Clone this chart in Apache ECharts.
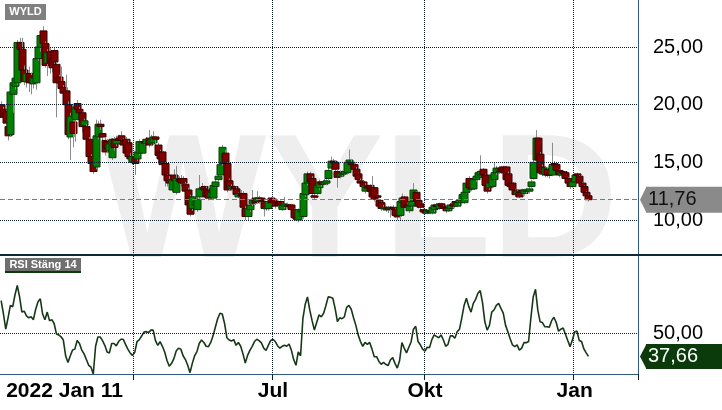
<!DOCTYPE html>
<html><head><meta charset="utf-8">
<script src="https://cdn.jsdelivr.net/npm/echarts@6/dist/echarts.min.js"></script>
<style>html,body{margin:0;padding:0;background:#fff}#c{width:722px;height:410px}</style>
</head><body><div id="c"></div>
<script>
// ---- data ----
const startDate = '2022-01-11';
const holidays = ['2022-04-15','2022-04-18','2022-05-26','2022-06-06','2022-06-24','2023-01-06'];
const monthNames = ['Jan','Feb','Mar','Apr','Maj','Jun','Jul','Aug','Sep','Okt','Nov','Dec'];
const ticker = 'WYLD';
const rsiTitle = 'RSI Stäng 14';
const priceTicks = [10, 15, 20, 25];
const rsiTicks = [50];

const opens = [20.0,19.6,19.4,18.1,17.4,20.9,21.6,21.9,25.4,24.8,
23.0,22.0,22.7,22.5,21.8,21.9,24.0,25.0,26.4,25.3,
23.6,24.6,24.0,24.7,23.5,22.4,22.0,21.5,21.2,20.0,
17.2,18.5,18.7,20.1,19.6,19.3,18.2,18.1,17.0,15.5,
15.0,14.6,17.2,18.3,17.5,16.9,16.8,16.0,15.4,17.0,
16.6,17.1,17.3,16.9,17.0,16.7,15.5,15.0,15.4,15.3,
15.8,15.8,16.8,16.6,17.1,16.6,16.7,17.2,16.5,15.9,
15.9,14.9,13.9,13.4,12.6,13.9,12.4,13.5,13.6,13.6,
13.1,12.6,12.0,11.0,11.3,10.9,12.0,12.7,12.9,12.7,
12.6,12.0,11.9,12.9,13.5,13.9,14.9,15.8,14.9,13.4,
12.7,12.9,12.7,12.0,12.3,12.3,11.0,10.3,10.9,11.4,
11.9,11.6,11.6,11.9,11.6,11.0,11.0,11.9,11.8,11.6,
11.5,11.6,10.9,11.2,11.2,11.3,11.3,10.9,10.2,10.0,
10.7,10.3,12.2,13.2,14.0,13.6,12.1,12.3,12.8,13.3,
13.1,13.2,13.6,14.5,15.1,15.0,14.2,13.8,14.0,14.0,
14.1,15.0,15.0,14.8,14.4,14.0,13.4,13.3,12.5,12.9,
13.0,12.8,12.8,12.1,11.7,11.5,11.0,10.9,11.1,11.0,
11.1,10.9,10.4,10.4,11.5,12.0,11.3,10.8,11.2,11.6,
12.4,11.7,11.4,10.9,10.8,10.6,10.8,10.6,10.9,11.3,
11.0,11.4,11.2,11.1,10.8,11.0,11.4,11.6,11.2,11.5,
11.7,11.5,12.4,13.6,12.8,12.7,13.5,13.7,13.9,14.4,
13.9,13.0,12.8,12.9,13.5,14.1,14.2,14.5,14.6,14.6,
14.0,13.2,13.2,12.6,12.2,12.4,12.6,12.3,12.5,12.5,
12.9,13.6,15.2,17.1,15.7,14.6,13.9,14.4,14.0,13.9,
14.9,14.8,14.3,13.9,14.2,14.1,13.6,13.2,12.9,13.3,
14.0,13.8,13.2,12.9,12.4,12.1];

const closes = [19.4,18.9,18.4,17.3,21.1,21.9,22.3,25.4,24.8,23.0,
22.0,22.7,21.9,21.9,22.3,24.0,25.0,26.0,25.3,23.4,
24.5,23.6,23.2,23.7,21.9,21.9,21.4,21.0,20.0,17.4,
19.0,17.5,19.8,19.6,19.3,18.1,18.6,17.0,15.5,14.9,
14.2,17.3,18.3,18.1,17.2,15.9,16.2,16.6,17.0,16.3,
16.9,16.9,16.9,16.5,15.8,15.5,15.3,15.5,14.9,15.9,
16.8,16.8,16.7,17.0,16.5,17.0,17.2,17.0,15.6,15.3,
14.8,13.9,13.4,13.2,13.5,13.4,13.6,13.4,13.2,13.2,
12.5,11.3,10.5,12.0,11.6,11.8,12.7,12.8,12.6,12.0,
11.9,12.4,13.0,13.3,13.8,14.8,16.3,14.9,12.6,12.8,
12.9,12.7,12.2,12.3,12.1,11.1,10.3,11.0,11.3,11.7,
11.5,11.9,11.9,11.7,11.0,11.1,11.6,11.5,11.5,11.2,
11.3,11.3,11.3,11.4,11.3,11.2,10.9,10.2,10.1,10.9,
10.9,12.3,13.2,14.0,13.3,12.3,12.0,13.0,13.3,13.1,
13.3,13.4,14.3,15.1,15.0,14.4,13.7,14.0,14.1,14.2,
15.0,15.2,14.8,14.4,13.8,13.5,13.2,12.9,13.0,12.8,
12.5,12.0,11.8,12.0,11.2,11.0,11.1,11.0,10.9,11.1,
11.0,10.4,10.3,11.6,11.9,11.1,11.1,11.2,11.6,12.6,
11.6,11.2,11.1,10.7,10.6,10.8,10.7,11.1,11.3,11.2,
11.4,11.2,11.0,10.8,11.0,11.3,11.2,11.5,11.5,11.7,
12.2,12.4,13.2,12.8,12.7,13.5,13.8,14.1,14.2,13.9,
13.0,12.5,13.2,13.9,14.1,14.5,14.5,14.2,14.1,13.5,
13.0,12.9,12.6,12.2,12.5,12.0,12.4,12.6,12.6,12.7,
13.3,15.0,17.1,15.2,14.1,14.0,14.5,13.9,13.9,14.8,
14.8,14.3,13.9,14.1,14.1,13.6,13.2,12.9,13.3,13.9,
13.9,13.2,12.9,12.4,12.1,11.76];

const lows = [19.0,18.6,17.8,16.9,17.2,19.3,21.3,21.7,24.5,22.8,
21.7,21.5,21.1,20.9,21.4,21.3,23.8,24.6,25.0,23.2,
22.5,22.7,22.8,23.4,18.9,21.6,21.2,20.8,19.8,17.0,
15.2,16.3,16.8,19.4,19.0,17.6,17.6,16.8,15.3,14.7,
14.0,14.4,17.0,17.8,16.8,15.6,15.9,15.6,15.2,16.0,
16.4,16.7,16.6,16.1,15.3,15.1,15.0,14.8,13.9,15.1,
15.6,15.7,16.5,16.4,16.3,16.4,16.5,16.2,15.0,15.0,
14.6,12.9,12.9,12.8,12.4,13.2,12.2,13.1,12.9,12.9,
12.2,11.0,10.3,10.8,11.0,10.7,11.8,12.5,12.3,11.8,
11.7,11.8,11.7,12.8,13.3,13.8,14.7,14.6,12.4,12.6,
12.5,12.4,12.0,11.9,11.9,10.9,10.0,10.0,10.7,11.2,
11.3,11.4,11.4,11.5,10.3,10.8,10.8,11.3,11.2,11.0,
11.0,11.1,10.8,11.0,11.0,11.0,10.7,10.0,9.9,9.8,
10.5,10.1,12.0,13.0,13.1,12.1,11.8,12.1,12.6,12.9,
13.0,13.0,13.4,14.3,14.7,14.2,12.8,13.6,13.8,13.9,
14.0,14.8,14.6,14.2,13.6,13.3,13.0,12.7,12.3,12.6,
12.3,11.8,11.6,11.9,11.0,10.8,10.9,10.7,10.6,10.2,
10.8,10.2,10.0,10.0,11.4,10.9,10.9,10.6,11.0,11.5,
11.4,11.0,10.9,10.5,10.5,10.5,10.5,10.5,10.7,11.0,
10.9,11.0,10.8,10.6,10.7,10.9,11.0,11.3,11.1,11.3,
11.5,11.4,12.3,12.6,12.5,12.6,13.3,13.6,13.8,13.7,
12.8,12.3,12.6,12.8,13.4,13.9,14.0,14.0,13.9,13.3,
12.8,12.7,12.4,12.0,12.0,11.9,12.2,12.1,12.3,12.3,
12.7,13.5,15.0,15.0,13.9,13.8,13.7,13.7,13.6,13.8,
14.6,14.1,13.7,13.8,13.9,13.3,13.0,12.7,12.8,13.2,
13.7,13.0,12.7,12.2,11.9,11.6];

const highs = [20.3,19.8,19.6,18.9,21.4,22.2,23.2,25.6,25.8,25.8,
23.4,23.0,23.3,22.8,22.6,24.2,25.2,26.1,26.8,25.5,
24.8,24.9,24.4,24.9,23.7,22.6,23.3,21.7,22.6,20.3,
19.3,18.7,20.1,20.4,19.8,19.4,18.8,18.3,17.2,15.7,
15.2,18.7,18.6,18.7,17.7,17.1,17.0,17.0,17.1,17.2,
17.3,17.4,17.7,17.1,17.2,16.9,15.8,15.7,15.5,16.0,
17.0,17.0,17.0,17.2,17.8,17.4,17.7,17.3,16.7,16.1,
16.0,15.0,14.0,13.8,13.7,14.4,14.7,13.8,13.9,13.8,
13.3,12.8,12.2,12.2,11.8,12.0,13.9,13.2,13.0,12.9,
12.9,12.6,13.1,13.5,14.3,15.0,16.5,16.1,15.0,13.6,
13.1,13.0,12.9,12.4,12.6,12.5,11.2,11.1,11.6,12.6,
12.0,12.5,12.1,12.0,11.8,11.3,11.8,12.0,12.0,11.7,
11.7,11.7,11.5,12.0,11.5,11.4,11.4,11.0,10.4,11.0,
11.1,12.4,13.3,14.2,14.2,13.8,12.3,13.2,13.5,13.4,
13.6,13.6,14.5,15.5,15.3,15.2,14.4,14.3,14.3,14.5,
15.2,16.1,15.3,15.0,14.6,14.1,13.6,13.4,13.2,13.0,
13.1,13.8,13.0,12.2,11.8,11.6,11.3,11.2,11.2,11.2,
11.3,11.0,10.6,11.8,12.3,12.1,11.5,11.3,11.9,13.2,
12.5,11.8,11.5,11.0,10.9,10.9,10.9,11.2,11.4,11.4,
11.5,11.5,11.3,11.2,11.1,11.4,11.5,11.7,11.6,11.8,
12.3,12.6,13.4,13.8,13.0,13.6,14.0,14.3,15.6,14.5,
14.0,13.1,13.3,14.0,15.0,14.7,14.7,14.7,14.7,14.7,
14.2,13.3,13.3,12.7,12.6,12.5,12.7,12.7,12.7,12.9,
13.5,15.2,17.8,17.2,15.9,14.8,14.6,14.5,14.2,16.7,
15.1,14.9,14.4,14.2,14.3,14.2,13.7,13.3,13.4,14.0,
14.1,13.9,13.3,13.0,12.5,12.2];

const rsi = [67,60,52,58,64.5,63.8,70,75,69,61,
61.5,59,58,58.5,57,62.5,66.5,68,60,57,
61,56.5,57,55,49.5,49,48,46.3,38,34.5,
37.9,41,41.5,46,44.5,41,39,36,33,32,
28.4,43,47.9,47.9,46,43.5,40,39.5,44.5,44.5,
43.2,45.5,46.7,46.7,44,41.5,39.5,38.2,39.8,45.5,
46.5,48.4,50.5,50.7,50.2,51.5,51.5,46,43.5,45.4,
43,40,35.5,32.5,34,36.5,40.5,42,41.5,38,
36,33,29.1,34,38,40.2,44.5,46.3,45,43,
42.8,45,48.5,53,57.5,60.4,60,55,47.5,46.3,
45.8,46.5,43.5,45,43,39,34.2,38.2,40.8,43,
45.5,46.7,46,44.8,42,40.8,43.5,46,46.7,45.5,
43.3,42,43,43.5,43,44.2,41,36,33,40,
38,57.5,65,69,62,56.5,51.6,55.5,59.5,58.5,
60.4,64.5,69,68.8,68.3,63,56,58,57.5,58.5,
63.5,64.5,62.5,58,54,49,45.5,43,45,44,
45,41.5,37.5,37.5,35,33.5,34.5,33.5,32.8,35.8,
37,34,31.5,35.5,44.9,42,39.5,42.5,45.4,52,
53.5,45.5,43.8,41.5,40.5,42.5,42.3,46.5,49,48.2,
47.5,49,46.3,43,44,48.5,48.5,47.2,50.7,52,
58,64.5,68.3,64,61,65.6,67.7,70.9,72.3,66,
55.9,51.5,54,61,62.1,64.5,65.6,63,60.5,54,
50.7,47,43.7,42.8,43.7,41,42,44.9,44.9,45.5,
58,69,73,62,55.9,55.5,53.3,53.3,53,56.5,
58.3,55.5,50.9,52,52.6,49.3,46,42.8,46.3,50.5,
51,46,45.5,41.6,39.5,37.66];

// ---- derived structures ----
const dates = [];
{
  const [y0, m0, d0] = startDate.split('-').map(Number);
  const d = new Date(Date.UTC(y0, m0 - 1, d0));
  while (dates.length < closes.length) {
    const wd = d.getUTCDay();
    const iso = d.toISOString().slice(0, 10);
    if (wd !== 0 && wd !== 6 && !holidays.includes(iso)) dates.push(iso);
    d.setUTCDate(d.getUTCDate() + 1);
  }
}
const padCount = 21;
const categories = dates.concat(new Array(padCount).fill(''));
const quarterStarts = [];
for (let i = 1; i < dates.length; i++) {
  const m = +dates[i].slice(5, 7), pm = +dates[i - 1].slice(5, 7);
  if (m !== pm && (m - 1) % 3 === 0) quarterStarts.push(i);
}
const labelIdx = [0].concat(quarterStarts.filter(i => i > 70));
const candleData = closes.map((c, i) => [i, opens[i], c, lows[i], highs[i]]);
const lastPrice = closes[closes.length - 1];
const lastRsi = rsi[rsi.length - 1];
const fmt = v => v.toFixed(2).replace('.', ',');

const FONT = 'Liberation Sans, Arial, sans-serif';
const gridColor = '#0c1c28';
const axisBlue = '#2c5b86';
const dotted = { color: gridColor, width: 1, type: [1, 1] };

const chart = echarts.init(document.getElementById('c'));
const tickLabel = { show: true, position: 'end', distance: 15, color: '#000', fontFamily: FONT, fontSize: 20 };

chart.setOption({
  animation: false,
  grid: [
    { left: 0, right: 84, top: 0, height: 254 },
    { left: 0, right: 84, top: 254, height: 120 }
  ],
  xAxis: [
    { type: 'category', gridIndex: 0, data: categories, boundaryGap: true,
      axisLine: { show: false }, axisTick: { show: false }, axisLabel: { show: false },
      splitLine: { show: true, interval: i => quarterStarts.includes(i), lineStyle: dotted } },
    { type: 'category', gridIndex: 1, data: categories, boundaryGap: true,
      axisLine: { show: true, lineStyle: { color: axisBlue, width: 1 } },
      axisTick: { show: true, interval: i => quarterStarts.includes(i), length: 6, lineStyle: { color: gridColor } },
      axisLabel: { show: true, interval: i => labelIdx.includes(i), alignMinLabel: 'left', margin: 7,
        color: '#000', fontFamily: FONT, fontSize: 21, fontWeight: 'bold',
        formatter: (val, idx) => {
          if (!val) return '';
          const p = val.split('-');
          const mn = monthNames[+p[1] - 1];
          return idx === 0 ? '{f|' + p[0] + ' ' + mn + ' ' + (+p[2]) + '}' : mn;
        },
        rich: { f: { fontFamily: FONT, fontSize: 21, fontWeight: 'bold', color: '#000', padding: [0, 0, 0, 5] } } },
      splitLine: { show: true, interval: i => quarterStarts.includes(i), lineStyle: dotted } }
  ],
  yAxis: [
    { type: 'value', gridIndex: 0, position: 'right', min: 7.05, max: 29.08,
      axisLine: { show: true, onZero: false, lineStyle: { color: axisBlue } },
      axisTick: { show: false }, axisLabel: { show: false }, splitLine: { show: false } },
    { type: 'value', gridIndex: 1, position: 'right', min: 28.4, max: 91.6,
      axisLine: { show: true, onZero: false, lineStyle: { color: axisBlue } },
      axisTick: { show: false }, axisLabel: { show: false }, splitLine: { show: false } }
  ],
  series: [
    { type: 'custom', xAxisIndex: 0, yAxisIndex: 0, data: candleData, clip: true,
      encode: { x: 0, y: [1, 2, 3, 4] },
      renderItem: (params, api) => {
        const i = api.value(0), o = api.value(1), c = api.value(2), l = api.value(3), h = api.value(4);
        const pO = api.coord([i, o]), pC = api.coord([i, c]), pL = api.coord([i, l]), pH = api.coord([i, h]);
        const x = Math.round(pO[0]);
        const w = 7;
        const top = Math.min(pO[1], pC[1]), bot = Math.max(pO[1], pC[1]);
        const up = c >= o;
        return { type: 'group', children: [
          { type: 'line', shape: { x1: x + 0.5, y1: pH[1], x2: x + 0.5, y2: pL[1] },
            style: { stroke: '#8c8c8c', lineWidth: 1 } },
          { type: 'rect', shape: { x: x - 3, y: top, width: w, height: Math.max(bot - top, 1.5) },
            style: { fill: up ? '#008000' : '#800000', stroke: up ? '#0b3a0b' : '#3a0000', lineWidth: 1 } }
        ] };
      },
      markLine: { silent: true, symbol: 'none', animation: false,
        data: priceTicks.map(v => ({ yAxis: v, lineStyle: dotted, label: Object.assign({ formatter: fmt(v) }, tickLabel) }))
          .concat([{ yAxis: lastPrice, lineStyle: { color: '#7a7a7a', width: 1, type: [5, 3] },
            label: { show: true, position: 'end', distance: 8, formatter: fmt(lastPrice), color: '#111',
              fontFamily: FONT, fontSize: 20, lineHeight: 20, backgroundColor: '#8a8a8a',
              padding: [3, 30, 3, 2], borderRadius: [0, 4, 4, 0] } }]) } },
    { type: 'line', xAxisIndex: 1, yAxisIndex: 1, data: rsi, showSymbol: false, clip: true,
      lineStyle: { color: '#163816', width: 1.6 },
      markLine: { silent: true, symbol: 'none', animation: false,
        data: rsiTicks.map(v => ({ yAxis: v, lineStyle: dotted, label: Object.assign({ formatter: fmt(v) }, tickLabel) }))
          .concat([{ yAxis: lastRsi, lineStyle: { color: 'rgba(0,0,0,0)', width: 1 },
            label: { show: true, position: 'end', distance: 8, formatter: fmt(lastRsi), color: '#fff',
              fontFamily: FONT, fontSize: 20, lineHeight: 20, backgroundColor: '#0b3a0b',
              padding: [3, 30, 2, 2], borderRadius: [0, 4, 4, 0] } }]) } }
  ]
});

const pyPrice = chart.convertToPixel({ yAxisIndex: 0 }, lastPrice);
const pyRsi = chart.convertToPixel({ yAxisIndex: 1 }, lastRsi);
chart.setOption({
  graphic: [
    { type: 'text', z: -10, left: 100, top: 120, silent: true,
      style: { text: ticker, fill: '#eeeeee', font: 'bold 176px ' + FONT } },
    { type: 'rect', z: 10, shape: { x: 0, y: 254, width: 722, height: 2 }, style: { fill: '#0d2a38' } },
    { type: 'rect', z: 10, shape: { x: 5, y: 4, width: 41, height: 16 }, style: { fill: '#808080' } },
    { type: 'text', z: 11, x: 25.5, y: 12, style: { text: ticker, fill: '#fff', font: 'bold 11px ' + FONT, textAlign: 'center', textVerticalAlign: 'middle' } },
    { type: 'rect', z: 10, shape: { x: 5, y: 258, width: 76, height: 14 }, style: { fill: '#6f6f6f' } },
    { type: 'rect', z: 10, shape: { x: 5, y: 271, width: 76, height: 2 }, style: { fill: '#0b3a0b' } },
    { type: 'text', z: 11, x: 43, y: 265, style: { text: rsiTitle, fill: '#fff', font: 'bold 11px ' + FONT, textAlign: 'center', textVerticalAlign: 'middle' } },
    { type: 'polygon', z: 10, shape: { points: [[640, pyPrice], [646.5, pyPrice - 13], [646.5, pyPrice + 13]] }, style: { fill: '#8a8a8a' } },
    { type: 'polygon', z: 10, shape: { points: [[640, pyRsi], [646.5, pyRsi - 12.5], [646.5, pyRsi + 12.5]] }, style: { fill: '#0b3a0b' } }
  ]
});
</script></body></html>
